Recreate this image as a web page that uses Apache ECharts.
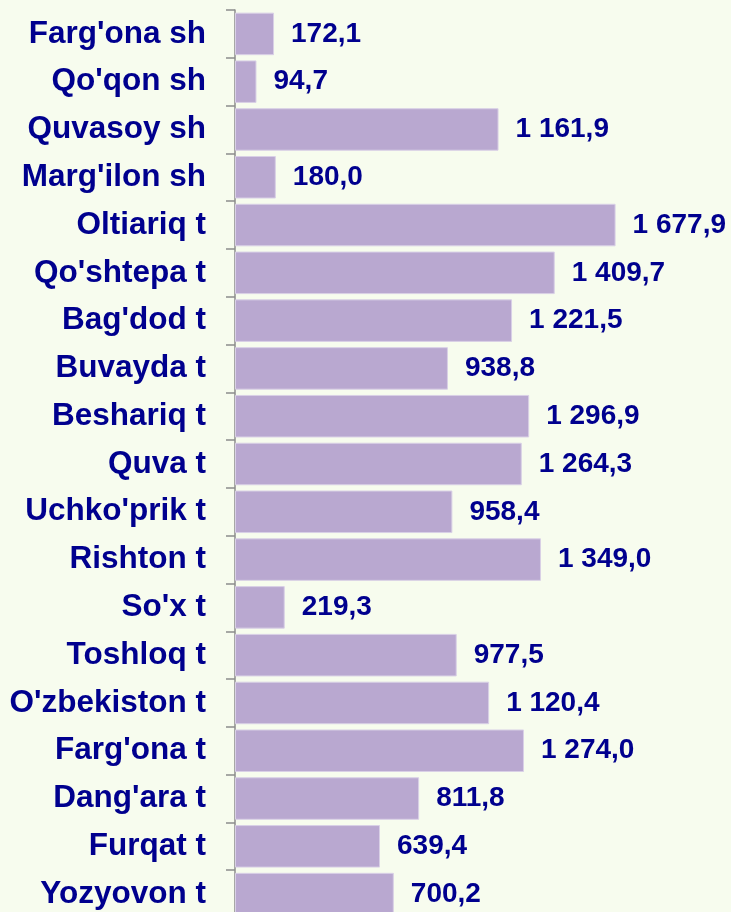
<!DOCTYPE html>
<html>
<head>
<meta charset="utf-8">
<title>Tumanlar</title>
<script src="https://cdn.jsdelivr.net/npm/echarts@6/dist/echarts.min.js"></script>
<style>
  html, body { margin: 0; padding: 0; background: #f7fcee; }
  #chart { width: 731px; height: 912px; }
</style>
</head>
<body>
<div id="chart"></div>
<script>
// categories, top to bottom
const districts = [
  "Farg'ona sh", "Qo'qon sh", "Quvasoy sh", "Marg'ilon sh", "Oltiariq t",
  "Qo'shtepa t", "Bag'dod t", "Buvayda t", "Beshariq t", "Quva t",
  "Uchko'prik t", "Rishton t", "So'x t", "Toshloq t", "O'zbekiston t",
  "Farg'ona t", "Dang'ara t", "Furqat t", "Yozyovon t"
];

const values = [
  172.1, 94.7, 1161.9, 180.0, 1677.9,
  1409.7, 1221.5, 938.8, 1296.9, 1264.3,
  958.4, 1349.0, 219.3, 977.5, 1120.4,
  1274.0, 811.8, 639.4, 700.2
];

// 1161.9 -> "1 161,9"
function fmt(v){
  const parts = v.toFixed(1).split(".");
  const int = parts[0].replace(/\B(?=(\d{3})+(?!\d))/g, " ");
  return int + "," + parts[1];
}

const chart = echarts.init(document.getElementById("chart"));
const navy = "#00008e";

chart.setOption({
  backgroundColor: "#f7fcee",
  animation: false,
  // last row runs past the bottom edge, like the original
  grid: { left: 235, top: 10, width: 499, height: 908, outerBoundsMode: "none", containLabel: false },
  xAxis: {
    type: "value",
    min: 0,
    max: 2200,
    show: false
  },
  yAxis: {
    type: "category",
    data: districts,
    inverse: true,
    axisLine: { show: true, lineStyle: { color: "#8c8c8c", width: 1.5 } },
    axisTick: { show: true, length: 9, lineStyle: { color: "#8c8c8c", width: 1.5 } },
    axisLabel: {
      margin: 29,
      color: navy,
      fontFamily: "Liberation Sans, Arial, sans-serif",
      fontWeight: "bold",
      fontSize: 31.5
    },
    splitLine: { show: false }
  },
  series: [{
    type: "bar",
    data: values,
    barCategoryGap: "11%",
    itemStyle: { color: "#b9a8d0", borderColor: "#d9d0e6", borderWidth: 1 },
    label: {
      show: true,
      position: "right",
      distance: 17,
      color: navy,
      fontFamily: "Liberation Sans, Arial, sans-serif",
      fontWeight: "bold",
      fontSize: 28,
      formatter: (p)=> fmt(p.value)
    }
  }]
});
</script>
</body>
</html>
